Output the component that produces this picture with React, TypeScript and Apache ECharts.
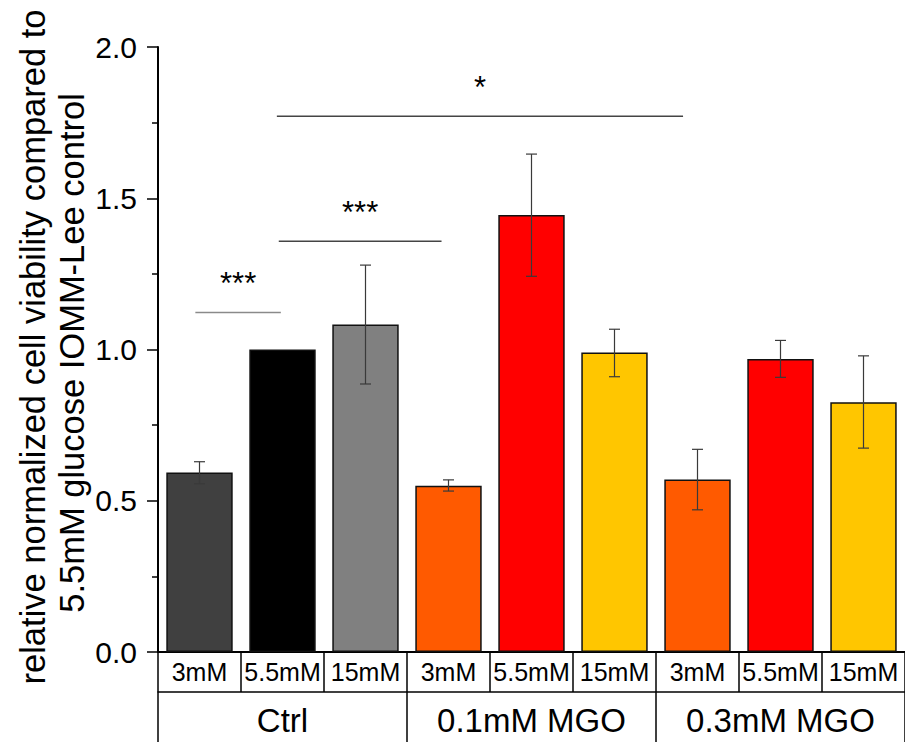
import React, { useEffect, useRef } from 'react';
import * as echarts from 'echarts';

const categories = ['3mM', '5.5mM', '15mM', '3mM', '5.5mM', '15mM', '3mM', '5.5mM', '15mM'];
const groups = ['Ctrl', '0.1mM MGO', '0.3mM MGO'];
const means = [0.593, 1.0, 1.083, 0.55, 1.445, 0.99, 0.57, 0.969, 0.826];
const errLow = [0.556, 1.0, 0.886, 0.532, 1.242, 0.91, 0.47, 0.908, 0.674];
const errHigh = [0.629, 1.0, 1.279, 0.569, 1.646, 1.067, 0.67, 1.03, 0.979];
const barColors = ['#404040', '#000000', '#808080', '#FF5A00', '#FF0000', '#FFC600', '#FF5A00', '#FF0000', '#FFC600'];

// significance brackets (x in category index units, y in data units)
const bracketFrom = [-0.05, 0.955, 0.932];
const bracketTo = [0.98, 2.916, 5.826];
const bracketY = [1.122, 1.358, 1.771];
const bracketLabels = ['***', '***', '*'];
const bracketColors = ['#8a8a8a', '#444444', '#444444'];

const titleLines = ['relative normalized cell viability compared to', '5.5mM glucose IOMM-Lee control'];

const FONT = "'Liberation Sans', Arial, Helvetica, sans-serif";

export default function App() {
  const ref = useRef<HTMLDivElement>(null);
  useEffect(() => {
    if (!ref.current) return;
    const chart = echarts.init(ref.current, undefined, { renderer: 'svg' });
    const option: any = {
      animation: false,
      backgroundColor: '#ffffff',
      textStyle: { fontFamily: FONT },
      grid: { left: 158, top: 47, width: 751, height: 605 },
      xAxis: [
        {
          type: 'category',
          data: categories,
          position: 'bottom',
          boundaryGap: true,
          axisLine: { show: true, onZero: false, lineStyle: { color: '#000', width: 2 } },
          axisTick: { show: true, interval: 0, length: 40, inside: false, lineStyle: { color: '#000', width: 1.5 } },
          axisLabel: { interval: 0, margin: 20, verticalAlign: 'middle', fontSize: 25, color: '#000', fontFamily: FONT },
          splitLine: { show: false },
        },
        {
          type: 'category',
          data: groups,
          position: 'bottom',
          offset: 40,
          boundaryGap: true,
          axisLine: { show: true, onZero: false, lineStyle: { color: '#000', width: 1.5 } },
          axisTick: { show: true, interval: 0, length: 50, inside: false, lineStyle: { color: '#000', width: 1.5 } },
          axisLabel: { interval: 0, margin: 28, verticalAlign: 'middle', fontSize: 33, color: '#000', fontFamily: FONT },
          splitLine: { show: false },
        },
        {
          type: 'value',
          min: -0.5,
          max: 8.5,
          show: false,
          axisLine: { onZero: false },
        },
      ],
      yAxis: {
        type: 'value',
        min: 0,
        max: 2,
        interval: 0.5,
        axisLine: { show: true, onZero: false, lineStyle: { color: '#000', width: 2 } },
        axisTick: { show: true, length: 11, inside: false, lineStyle: { color: '#000', width: 1.5 } },
        minorTick: { show: true, splitNumber: 2, length: 6, lineStyle: { color: '#000', width: 1.5 } },
        axisLabel: { margin: 21, fontSize: 30, color: '#000', fontFamily: FONT, formatter: (v: number) => v.toFixed(1) },
        splitLine: { show: false },
      },
      series: [
        {
          type: 'bar',
          xAxisIndex: 0,
          yAxisIndex: 0,
          barWidth: '80%',
          data: means.map((v, i) => ({
            value: v,
            itemStyle: { color: barColors[i], borderColor: '#111', borderWidth: 1.5 },
          })),
          z: 2,
        },
        {
          type: 'custom',
          xAxisIndex: 2,
          yAxisIndex: 0,
          z: 5,
          data: means.map((_, i) => [i, errLow[i], errHigh[i]]),
          renderItem: (params: any, api: any) => {
            const x = api.value(0);
            const lo = api.coord([x, api.value(1)]);
            const hi = api.coord([x, api.value(2)]);
            if (Math.abs(lo[1] - hi[1]) < 0.5) return null;
            const half = 5.5;
            const st = { stroke: '#3a3a3a', lineWidth: 1.2 };
            return {
              type: 'group',
              children: [
                { type: 'line', shape: { x1: lo[0], y1: lo[1], x2: hi[0], y2: hi[1] }, style: st },
                { type: 'line', shape: { x1: hi[0] - half, y1: hi[1], x2: hi[0] + half, y2: hi[1] }, style: st },
                { type: 'line', shape: { x1: lo[0] - half, y1: lo[1], x2: lo[0] + half, y2: lo[1] }, style: st },
              ],
            };
          },
        },
        {
          type: 'custom',
          xAxisIndex: 2,
          yAxisIndex: 0,
          z: 6,
          data: bracketFrom.map((f, i) => [f, bracketTo[i], bracketY[i]]),
          renderItem: (params: any, api: any) => {
            const i = params.dataIndex;
            const p1 = api.coord([api.value(0), api.value(2)]);
            const p2 = api.coord([api.value(1), api.value(2)]);
            return {
              type: 'group',
              children: [
                { type: 'line', shape: { x1: p1[0], y1: p1[1], x2: p2[0], y2: p2[1] }, style: { stroke: bracketColors[i], lineWidth: 1.5 } },
                {
                  type: 'text',
                  x: (p1[0] + p2[0]) / 2,
                  y: p1[1] - 29,
                  style: { text: bracketLabels[i], fontSize: 31, fontFamily: FONT, fill: '#000', align: 'center', verticalAlign: 'middle' },
                },
              ],
            };
          },
        },
      ],
      graphic: [
        {
          type: 'text',
          x: 33,
          y: 347,
          rotation: Math.PI / 2,
          style: { text: titleLines[0], fontSize: 34.5, fontFamily: FONT, fill: '#000', align: 'center', verticalAlign: 'middle' },
        },
        {
          type: 'text',
          x: 72,
          y: 353,
          rotation: Math.PI / 2,
          style: { text: titleLines[1], fontSize: 34.5, fontFamily: FONT, fill: '#000', align: 'center', verticalAlign: 'middle' },
        },
      ],
    };
    chart.setOption(option);
    return () => chart.dispose();
  }, []);
  return <div ref={ref} style={{ position: 'fixed', left: 0, top: 0, width: 905, height: 742, background: '#fff' }} />;
}
